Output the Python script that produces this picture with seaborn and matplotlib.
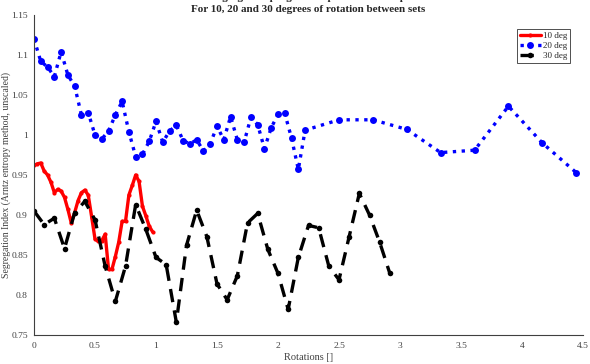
import pandas as pd
import matplotlib
matplotlib.use('Agg')
import matplotlib.pyplot as plt
import seaborn as sns
import numpy as np

# ==========================================
# data
# ==========================================
# 10 deg: one point every 1/36 rotation
rot_10 = [k / 36 for k in range(36)]
seg_10 = [0.962, 0.964, 0.965, 0.955, 0.950, 0.941, 0.928, 0.932, 0.930, 0.922,
          0.907, 0.890, 0.903, 0.918, 0.928, 0.931, 0.925, 0.898, 0.870, 0.867,
          0.868, 0.876, 0.832, 0.832, 0.848, 0.866, 0.892, 0.892, 0.925, 0.937,
          0.950, 0.942, 0.911, 0.899, 0.886, 0.879]

# 20 deg: 1/18 rotation steps up to 2.22, then 5/18 steps
rot_20 = [k / 18 for k in range(41)] + [k / 18 for k in range(45, 81, 5)]
seg_20 = [1.120, 1.092, 1.085, 1.073, 1.104, 1.075, 1.061, 1.025, 1.028, 1.000,
          0.995, 1.005, 1.025, 1.042, 1.004, 0.973, 0.976, 0.992, 1.017, 0.991,
          1.005, 1.012, 0.993, 0.989, 0.994, 0.980, 0.989, 1.011, 0.994, 1.023,
          0.994, 0.991, 1.022, 1.013, 0.983, 1.009, 1.026, 1.027, 0.996, 0.957,
          1.006,
          1.019, 1.019, 1.007, 0.978, 0.981, 1.036, 0.990, 0.953]

# 30 deg: one point every 1/12 rotation
rot_30 = [k / 12 for k in range(36)]
seg_30 = [0.905, 0.888, 0.896, 0.858, 0.903, 0.917, 0.894, 0.836, 0.792, 0.836,
          0.913, 0.882, 0.847, 0.838, 0.766, 0.862, 0.906, 0.873, 0.814, 0.794,
          0.824, 0.890, 0.902, 0.857, 0.827, 0.782, 0.847, 0.887, 0.884, 0.836,
          0.819, 0.873, 0.927, 0.900, 0.866, 0.827]

labels = ['10 deg', '20 deg', '30 deg']
x_ticks = [0, 0.5, 1, 1.5, 2, 2.5, 3, 3.5, 4, 4.5]
x_tick_labels = ['0', '0.5', '1', '1.5', '2', '2.5', '3', '3.5', '4', '4.5']
y_ticks = [0.75, 0.8, 0.85, 0.9, 0.95, 1.0, 1.05, 1.1, 1.15]
y_tick_labels = ['0.75', '0.8', '0.85', '0.9', '0.95', '1', '1.05', '1.1', '1.15']

df_10 = pd.DataFrame({'Rot': rot_10, 'Seg': seg_10})
df_20 = pd.DataFrame({'Rot': rot_20, 'Seg': seg_20})
df_30 = pd.DataFrame({'Rot': rot_30, 'Seg': seg_30})

# ==========================================
# style
# ==========================================
sns.set_style('white')
plt.rcParams['font.family'] = ['Liberation Serif', 'DejaVu Serif']
plt.rcParams['xtick.direction'] = 'in'
plt.rcParams['ytick.direction'] = 'in'

axis_grey = '#404040'

fig = plt.figure(figsize=(5.9, 3.64), dpi=100)
ax = fig.add_axes([34 / 590, 29 / 364, 549 / 590, 320 / 364])

sns.lineplot(data=df_10, x='Rot', y='Seg', ax=ax, color='#ff0000', linewidth=2.4,
             marker='o', markersize=3, markeredgewidth=0, label=labels[0],
             estimator=None, sort=False)
sns.lineplot(data=df_20, x='Rot', y='Seg', ax=ax, color='#0000ff', linewidth=2.4,
             linestyle=':', marker='o', markersize=5, markeredgewidth=0,
             label=labels[1], estimator=None, sort=False)
sns.lineplot(data=df_30, x='Rot', y='Seg', ax=ax, color='#000000', linewidth=2.4,
             linestyle=(0, (4, 2.5)), marker='o', markersize=4, markeredgewidth=0,
             label=labels[2], estimator=None, sort=False)

ax.set_xlim(0, 4.5)
ax.set_ylim(0.75, 1.15)
ax.set_xticks(x_ticks)
ax.set_xticklabels(x_tick_labels)
ax.set_yticks(y_ticks)
ax.set_yticklabels(y_tick_labels)
ax.tick_params(axis='both', labelsize=6.8, colors=axis_grey, length=3, width=0.6)
ax.tick_params(axis='y', pad=4.5)
ax.tick_params(axis='x', pad=5)

for side in ['top', 'right']:
    ax.spines[side].set_visible(False)
for side in ['left', 'bottom']:
    ax.spines[side].set_color(axis_grey)
    ax.spines[side].set_linewidth(0.8)

ax.set_xlabel('Rotations []', fontsize=7.5, color=axis_grey, labelpad=2)
ax.set_ylabel('Segregation Index (Arntz entropy method, unscaled)', fontsize=7,
              color=axis_grey)
# keep the rotated label just inside the left edge of the figure
ax.yaxis.set_label_coords(-0.041, 0.5)

ax.set_title('Segregation progression per rotation step\n'
             'For 10, 20 and 30 degrees of rotation between sets',
             fontsize=8, fontweight='bold', pad=2.5, linespacing=1.3)

leg = ax.legend(loc='upper right', fontsize=6.5, frameon=True, fancybox=False,
                handlelength=2.3, borderpad=0.3, labelspacing=0.2,
                handletextpad=0.3, bbox_to_anchor=(0.985, 0.97))
leg.get_frame().set_edgecolor('#000000')
leg.get_frame().set_linewidth(0.6)

plt.savefig('out.png', dpi=100)
